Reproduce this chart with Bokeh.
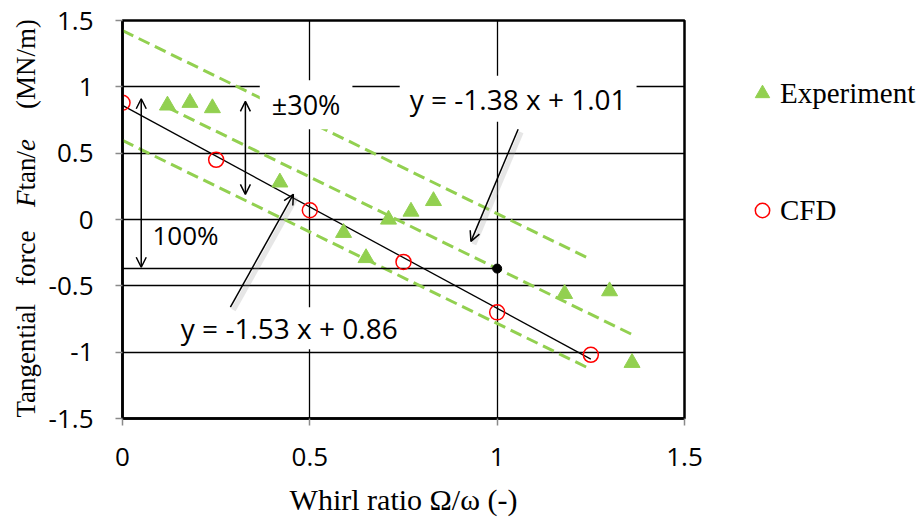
import math
from bokeh.plotting import figure
from bokeh.layouts import row
from bokeh.models import (Range1d, FixedTicker, Label, Arrow, OpenHead, Legend, LegendItem)
from bokeh.core.properties import value
from bokeh.embed import file_html
from bokeh.resources import INLINE

# ---------------- data ----------------
exp_x = [0.12, 0.18, 0.24, 0.42, 0.59, 0.65, 0.71, 0.77, 0.83, 1.18, 1.30, 1.36]
exp_y = [0.86, 0.88, 0.84, 0.28, -0.10, -0.29, 0.00, 0.06, 0.14, -0.56, -0.54, -1.08]
cfd_x = [0.0, 0.25, 0.5, 0.75, 1.0, 1.25]
cfd_y = [0.88, 0.45, 0.07, -0.32, -0.70, -1.02]
exp_fit = [-1.38, 1.01]     # slope, intercept
cfd_fit = [-1.53, 0.86]
band_frac = 0.30            # +-30 %
x_ticks = [0, 0.5, 1, 1.5]
x_tick_labels = ["0", "0.5", "1", "1.5"]
y_ticks = [-1.5, -1, -0.5, 0, 0.5, 1, 1.5]
y_tick_labels = ["-1.5", "-1", "-0.5", "0", "0.5", "1", "1.5"]
x_title = "Whirl ratio \u03a9/\u03c9 (-)"
y_title_parts = ["Tangential", "force", "F", "tan", "/", "e", "(MN/m)"]
y_title_styles = ["normal", "normal", "italic", "normal", "normal", "italic", "normal"]
legend_labels = ["Experiment", "CFD"]

GREEN = "#92D050"
SANS = "Open Sans"
SERIF = "Liberation Serif"
W, H = 919, 519
LEFT_W = 45
RIGHT_W = 205
MAIN_W = W - LEFT_W - RIGHT_W
TOP, BOTTOM = 20, 101
PX_X = 562 / 1.5      # pixels per x unit
PX_Y = 398 / 3.0      # pixels per y unit

p = figure(width=MAIN_W, height=H, x_range=Range1d(0, 1.5), y_range=Range1d(-1.5, 1.5),
           output_backend="svg", toolbar_location=None,
           min_border_left=122 - LEFT_W, min_border_right=MAIN_W - (684 - LEFT_W),
           min_border_top=TOP, min_border_bottom=BOTTOM)
p.background_fill_color = "white"
p.border_fill_color = "white"
p.outline_line_color = "black"
p.outline_line_width = 2.5

for ax, ticks, labels in ((p.xaxis[0], x_ticks, x_tick_labels), (p.yaxis[0], y_ticks, y_tick_labels)):
    ax.ticker = FixedTicker(ticks=ticks)
    ax.major_label_overrides = {t: l for t, l in zip(ticks, labels)}
    ax.minor_tick_line_color = None
    ax.major_tick_in = 0
    ax.major_tick_out = 7
    ax.major_tick_line_color = "#8a8a8a"
    ax.major_tick_line_width = 1.5
    ax.axis_line_color = "black"
    ax.axis_line_width = 2.5
    ax.major_label_text_font = SANS
    ax.major_label_text_font_size = "26px"
    ax.major_label_text_color = "black"

p.xaxis.major_label_standoff = 22
p.yaxis.major_label_standoff = 22
p.xaxis.axis_label = x_title
p.xaxis.axis_label_text_font = SERIF
p.xaxis.axis_label_text_font_style = "normal"
p.xaxis.axis_label_text_font_size = "30px"
p.xaxis.axis_label_text_color = "black"
p.xaxis.axis_label_standoff = 14

p.xgrid.ticker = FixedTicker(ticks=x_ticks)
p.ygrid.ticker = FixedTicker(ticks=y_ticks)
for g in (p.xgrid[0], p.ygrid[0]):
    g.grid_line_color = "black"
    g.grid_line_width = 1.3

# ---------------- trend lines ----------------
def line_pts(fit, x0, x1, off=0.0):
    return [x0, x1], [fit[0] * x0 + fit[1] + off, fit[0] * x1 + fit[1] + off]

band = band_frac * abs(exp_fit[0])
for off in (band, -band):
    xs, ys = line_pts(exp_fit, min(cfd_x), max(cfd_x), off)
    p.line(xs, ys, line_color=GREEN, line_width=3, line_dash="12 6")
xs, ys = line_pts(exp_fit, min(exp_x), max(exp_x))
p.line(xs, ys, line_color=GREEN, line_width=3, line_dash="12 6")

xs, ys = line_pts(cfd_fit, min(cfd_x), max(cfd_x))
p.line(xs, ys, line_color="black", line_width=1.3)

# reference value of experiment fit at whirl ratio 1
ref_x = 1.0
ref_y = exp_fit[0] * ref_x + exp_fit[1]
p.line([0, ref_x], [ref_y, ref_y], line_color="black", line_width=1.5)
p.scatter([ref_x], [ref_y], marker="circle", size=9, fill_color="black", line_color="black")

# ---------------- data markers ----------------
EXP_STYLE = dict(marker="triangle", size=16, fill_color=GREEN, line_color=GREEN)
CFD_STYLE = dict(marker="circle", size=15, fill_color=None, line_color="red", line_width=1.5)
p.scatter(exp_x, exp_y, **EXP_STYLE)
p.scatter(cfd_x, cfd_y, **CFD_STYLE)

# ---------------- annotations ----------------
def add_label(x, y, text, size, align="center", bg=True, pad=None):
    kw = {}
    if bg:
        kw["background_fill_color"] = "white"
        if pad is not None:
            kw["padding"] = pad
    p.add_layout(Label(x=x, y=y, text=text, text_font=SANS, text_font_size=size,
                       text_color="black", text_align=align, text_baseline="middle", **kw))

def add_arrow(x0, y0, x1, y1, both=False, shadow=False):
    if shadow:
        dx, dy = 3 / PX_X, -3 / PX_Y
        p.add_layout(Arrow(end=None, start=None, x_start=x0 + dx, y_start=y0 + dy,
                           x_end=x1 + dx, y_end=y1 + dy, line_width=5,
                           line_color="#9a9a9a", line_alpha=0.25))
    kw = dict(start=OpenHead(size=10, line_width=1.5)) if both else dict(start=None)
    p.add_layout(Arrow(end=OpenHead(size=10, line_width=1.5), x_start=x0, y_start=y0,
                       x_end=x1, y_end=y1, line_width=1.5, line_color="black", **kw))

add_label(0.49, 0.865, "\u00b130%", "27px", pad=dict(left=12, right=12, top=6, bottom=6))
add_label(1.056, 0.91, f"y = {exp_fit[0]:.2f} x + {exp_fit[1]:.2f}", "28px",
          pad=dict(left=10, right=10, top=4, bottom=4))
add_label(0.445, -0.82, f"y = {cfd_fit[0]:.2f} x + {cfd_fit[1]:.2f}", "28px",
          pad=dict(left=8, right=8, top=2, bottom=2))
add_label(0.08, -0.115, "100%", "26px", align="left", bg=False)

add_arrow(0.05, 0.91, 0.05, ref_y + 0.01, both=True)
add_arrow(0.328, 0.89, 0.328, 0.19, both=True)
add_arrow(1.056, 0.68, 0.93, -0.165, shadow=True)
add_arrow(0.288, -0.66, 0.456, 0.19, shadow=True)

# ---------------- helper side figures ----------------
def side_fig(width):
    f = figure(width=width, height=H, x_range=Range1d(0, width), y_range=Range1d(BOTTOM, H - TOP),
               output_backend="svg", toolbar_location=None, x_axis_type=None, y_axis_type=None,
               min_border_left=0, min_border_right=0, min_border_top=TOP, min_border_bottom=BOTTOM)
    f.outline_line_color = None
    f.grid.visible = False
    f.background_fill_color = "white"
    f.border_fill_color = "white"
    return f

# y axis title (mixed italic) – data units equal screen pixels measured from the bottom
yl = side_fig(LEFT_W)
TIMES = {'T': 611, 'a': 444, 'n': 500, 'g': 500, 'e': 444, 't': 278, 'i': 278, 'l': 278,
         'f': 333, 'o': 500, 'r': 333, 'c': 444, '(': 333, 'M': 889, 'N': 722, '/': 278,
         'm': 778, ')': 333, 'F': 611, ' ': 250}
# advance after each part: (width scale, extra gap in px)
steps = [(0.88, 30), (0.88, 30), (1.0, 0), (0.97, 0), (1.0, 0), (1.0, 30), (0.88, 0)]
fs = 27
pos = H - 417.0
for txt, style, (sc, gap) in zip(y_title_parts, y_title_styles, steps):
    yl.text(x=[25], y=[pos], text=[txt], angle=math.pi / 2, text_align="left",
            text_baseline="middle", text_font=value(SERIF), text_font_size=value(f"{fs}px"),
            text_font_style=style, text_color="black")
    pos += sum(TIMES[c] for c in txt) / 1000 * fs * sc + gap

# legend figure (its data renderers fall outside its visible range; only the legend shows)
lg = side_fig(RIGHT_W)
d_exp = lg.scatter(exp_x, exp_y, **EXP_STYLE)
d_cfd = lg.scatter(cfd_x, cfd_y, **CFD_STYLE)
legend = Legend(items=[LegendItem(label=legend_labels[0], renderers=[d_exp]),
                       LegendItem(label=legend_labels[1], renderers=[d_cfd])],
                location=(744 - (W - RIGHT_W), 188), glyph_width=36, glyph_height=40,
                label_standoff=0, label_height=40, spacing=77, padding=0, margin=0,
                border_line_color=None, background_fill_alpha=0,
                label_text_font=SERIF, label_text_font_size="29px", label_text_color="black")
lg.add_layout(legend)

layout = row(yl, p, lg, spacing=0)
open("out.html", "w").write(file_html(layout, INLINE))
